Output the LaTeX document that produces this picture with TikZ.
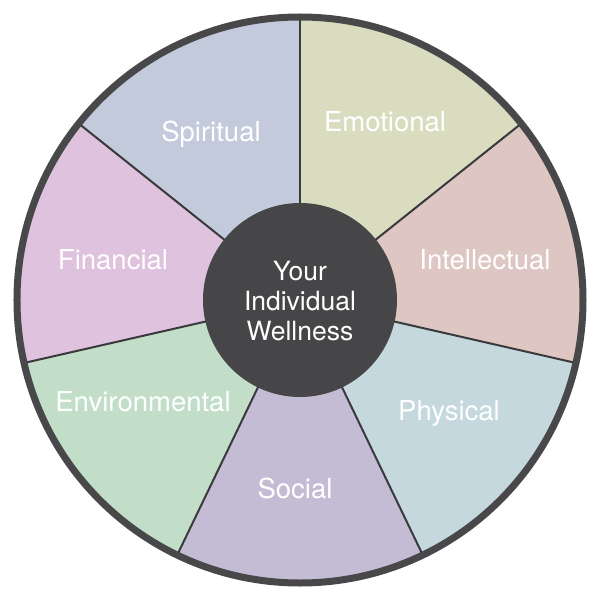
\documentclass[tikz,border=0pt]{standalone}
\usepackage{fontspec}
\setmainfont{TeX Gyre Heros}
\definecolor{ringc}{HTML}{48484A}
\definecolor{hubc}{HTML}{464648}
\definecolor{linec}{HTML}{3A3A3C}
\definecolor{cSpi}{HTML}{C2CADC}
\definecolor{cEmo}{HTML}{DADCC0}
\definecolor{cInt}{HTML}{DEC6C2}
\definecolor{cPhy}{HTML}{C4D8DE}
\definecolor{cSoc}{HTML}{C4BCD4}
\definecolor{cEnv}{HTML}{C2DEC8}
\definecolor{cFin}{HTML}{DEC2DE}
\begin{document}
\begin{tikzpicture}[
  lbl/.style={text=white, anchor=base, inner sep=0pt, font=\fontsize{27.5}{30}\selectfont},
  divider/.style={draw=linec, line width=2pt},
]
\useasboundingbox (-300pt,-300pt) rectangle (300pt,300pt);
\def\R{283pt}
% wedges
\foreach \a/\b/\c in {141.43/90/cSpi, 90/38.57/cEmo, 38.57/-12.86/cInt, -12.86/-64.29/cPhy, -64.29/-115.71/cSoc, -115.71/-167.14/cEnv, -167.14/-218.57/cFin}{
  \fill[\c] (0,0) -- (\a:\R) arc[start angle=\a, end angle=\b, radius=\R] -- cycle;
}
% dividers
\foreach \a in {90, 38.57, -12.86, -64.29, -115.71, -167.14, 141.43}{
  \draw[divider] (0,0) -- (\a:\R);
}
% outer ring
\draw[ringc, line width=7pt] (0,0) circle[radius=\R];
% hub
\node[circle, fill=hubc, minimum size=194pt, inner sep=0pt] (hub) at (0,0) {};
\node[text=white, align=center, inner sep=0pt, font=\fontsize{26.5}{30}\selectfont] (hubtext) at (0pt,-1pt) {Your\\Individual\\Wellness};
% labels
\node[lbl] (spi) at (-89pt,158pt) {Spiritual};
\node[lbl] (emo) at (85pt,168pt) {Emotional};
\node[lbl] (int) at (185pt,31pt) {Intellectual};
\node[lbl] (phy) at (149pt,-120pt) {Physical};
\node[lbl] (soc) at (-5pt,-198pt) {Social};
\node[lbl] (env) at (-157pt,-111pt) {Environmental};
\node[lbl] (fin) at (-187pt,31pt) {Financial};
\end{tikzpicture}
\end{document}
